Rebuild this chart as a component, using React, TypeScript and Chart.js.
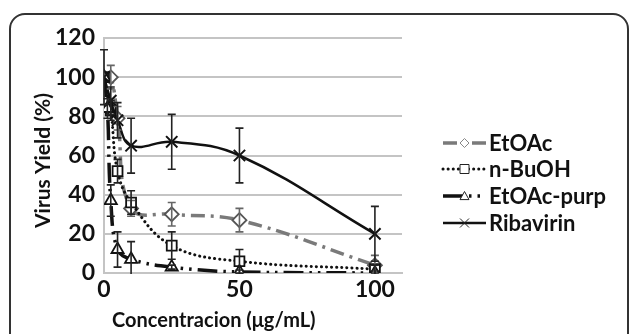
import React, { useEffect, useRef } from "react";
import { Chart, registerables } from "chart.js";

Chart.register(...registerables);

// ---- data ----
const etoacX = [0, 2.5, 5, 10, 25, 50, 100];
const etoacY = [100, 100, 79, 33, 30, 27, 4];
const etoacErr = [0, 6, 6, 4, 6, 6, 5];

const buohX = [0, 2.5, 5, 10, 25, 50, 100];
const buohY = [100, 83, 52, 36, 14, 6, 2];
const buohErr = [0, 5, 6, 6, 7, 6, 2];

const purpX = [0, 1.25, 2.5, 5, 10, 25, 50, 100];
const purpY = [100, 84, 37, 12, 7, 3, 0.5, 0];
const purpErr = [0, 5, 8, 9, 9, 1, 1, 1];

const ribaX = [0, 2.5, 5, 10, 25, 50, 100];
const ribaY = [100, 88, 78, 65, 67, 60, 20];
const ribaErr = [14, 7, 9, 14, 14, 14, 14];

const seriesNames = ["EtOAc", "n-BuOH", "EtOAc-purp", "Ribavirin"];
const yTicks = [0, 20, 40, 60, 80, 100, 120];
const xTicks = [0, 50, 100];
const xTitle = "Concentracion (\u03bcg/mL)";
const yTitle = "Virus Yield (%)";

const FONT = "Lato, 'Open Sans', sans-serif";

function pts(xs: number[], ys: number[]) {
  return xs.map((x, i) => ({ x, y: ys[i] }));
}

const styles = [
  { color: "#7a7a7a", point: "#555555", dash: [14, 6, 3, 6], width: 3.5, style: "rectRot", radius: 7, cap: "butt" },
  { color: "#111111", point: "#111111", dash: [0.1, 5], width: 3, style: "rect", radius: 7, cap: "round" },
  { color: "#111111", point: "#111111", dash: [20, 6, 2.5, 6, 2.5, 6], width: 3.5, style: "triangle", radius: 7, cap: "butt" },
  { color: "#111111", point: "#111111", dash: [], width: 2.5, style: "crossRot", radius: 8, cap: "butt" },
];

const errorBarPlugin = {
  id: "errorBars",
  afterDatasetsDraw(chart: any) {
    const ctx = chart.ctx;
    const xs = chart.scales.x;
    const ys = chart.scales.y;
    ctx.save();
    ctx.beginPath();
    ctx.rect(chart.chartArea.left - 10, 0, chart.width, chart.chartArea.bottom + 1);
    ctx.clip();
    chart.data.datasets.forEach((ds: any) => {
      const errs: number[] = ds.errors || [];
      ctx.strokeStyle = ds.errColor;
      ctx.lineWidth = 1.6;
      ctx.setLineDash([]);
      ds.data.forEach((p: any, i: number) => {
        const e = errs[i];
        if (!e) return;
        const px = xs.getPixelForValue(p.x);
        const top = ys.getPixelForValue(p.y + e);
        const bot = ys.getPixelForValue(Math.max(p.y - e, -2));
        ctx.beginPath();
        ctx.moveTo(px, top);
        ctx.lineTo(px, bot);
        ctx.moveTo(px - 4, top);
        ctx.lineTo(px + 4, top);
        ctx.moveTo(px - 4, bot);
        ctx.lineTo(px + 4, bot);
        ctx.stroke();
      });
    });
    ctx.restore();
  },
};

function drawMarker(ctx: any, style: string, x: number, y: number, r: number) {
  ctx.beginPath();
  if (style === "rectRot") {
    ctx.moveTo(x, y - r);
    ctx.lineTo(x + r, y);
    ctx.lineTo(x, y + r);
    ctx.lineTo(x - r, y);
    ctx.closePath();
    ctx.fill();
    ctx.stroke();
  } else if (style === "rect") {
    ctx.rect(x - r, y - r, 2 * r, 2 * r);
    ctx.fill();
    ctx.stroke();
  } else if (style === "triangle") {
    ctx.moveTo(x, y - r);
    ctx.lineTo(x + r, y + r * 0.8);
    ctx.lineTo(x - r, y + r * 0.8);
    ctx.closePath();
    ctx.fill();
    ctx.stroke();
  } else {
    ctx.moveTo(x - r, y - r);
    ctx.lineTo(x + r, y + r);
    ctx.moveTo(x + r, y - r);
    ctx.lineTo(x - r, y + r);
    ctx.stroke();
  }
}

const textPlugin = {
  id: "customText",
  afterDraw(chart: any) {
    const ctx = chart.ctx;
    const area = chart.chartArea;
    ctx.save();
    ctx.fillStyle = "#111";
    // x title
    ctx.font = `bold 20px ${FONT}`;
    ctx.textAlign = "left";
    ctx.textBaseline = "middle";
    ctx.fillText(xTitle, area.left + 8, 321);
    // y title
    ctx.save();
    ctx.translate(43, (area.top + area.bottom) / 2 + 5);
    ctx.rotate(-Math.PI / 2);
    ctx.font = `bold 21px ${FONT}`;
    ctx.textAlign = "center";
    ctx.fillText(yTitle, 0, 0);
    ctx.restore();

    // legend
    const lx0 = 443;
    const lx1 = 486;
    const rowY = [143, 169, 196, 223];
    chart.data.datasets.forEach((ds: any, i: number) => {
      const st = styles[i];
      const y = rowY[i];
      ctx.save();
      ctx.strokeStyle = st.color;
      ctx.lineWidth = st.width;
      ctx.lineCap = st.cap;
      ctx.setLineDash(st.dash);
      ctx.beginPath();
      ctx.moveTo(lx0, y);
      ctx.lineTo(lx1, y);
      ctx.stroke();
      ctx.restore();
      const mx = (lx0 + lx1) / 2;
      ctx.save();
      ctx.fillStyle = "#fff";
      ctx.strokeStyle = i === 0 ? "#888" : "#222";
      ctx.lineWidth = 1;
      ctx.setLineDash([]);
      drawMarker(ctx, st.style, mx, y, 4.5);
      ctx.restore();
      ctx.fillStyle = "#111";
      ctx.font = `bold 22px ${FONT}`;
      ctx.textAlign = "left";
      ctx.textBaseline = "middle";
      ctx.fillText(ds.label, lx1 + 3, y + 1);
    });
    ctx.restore();
  },
};

export default function App() {
  const ref = useRef<HTMLCanvasElement>(null);
  useEffect(() => {
    const xsArr = [etoacX, buohX, purpX, ribaX];
    const ysArr = [etoacY, buohY, purpY, ribaY];
    const errArr = [etoacErr, buohErr, purpErr, ribaErr];
    const datasets = seriesNames.map((name, i) => {
      const st = styles[i];
      return {
        label: name,
        data: pts(xsArr[i], ysArr[i]),
        errors: errArr[i],
        errColor: i === 0 ? "#666" : "#222",
        borderColor: st.color,
        borderWidth: st.width,
        borderDash: st.dash,
        borderCapStyle: st.cap,
        tension: 0.4,
        pointStyle: st.style,
        pointRadius: st.radius,
        pointBorderColor: st.point,
        pointBackgroundColor: st.style === "crossRot" ? st.point : "#fff",
        pointBorderWidth: st.style === "crossRot" ? 2 : 1.8,
        fill: false,
        order: 4 - i,
      };
    });
    const chart = new Chart(ref.current!, {
      type: "line",
      data: { datasets } as any,
      options: {
        animation: false,
        responsive: false,
        layout: { padding: { left: 0, top: 38, right: 227, bottom: 0 } },
        plugins: { legend: { display: false }, tooltip: { enabled: false } },
        scales: {
          x: {
            type: "linear",
            min: 0,
            max: 110,
            afterBuildTicks: (s: any) => {
              s.ticks = xTicks.map((v) => ({ value: v }));
            },
            afterFit: (s: any) => {
              s.height = 61;
            },
            grid: { display: false, drawTicks: false },
            border: { display: true, color: "#c4c4c4", width: 2 },
            ticks: {
              padding: 3,
              color: "#111",
              font: { family: FONT, size: 23, weight: "bold" },
              maxRotation: 0,
            },
          },
          y: {
            min: 0,
            max: 120,
            afterBuildTicks: (s: any) => {
              s.ticks = yTicks.map((v) => ({ value: v }));
            },
            afterFit: (s: any) => {
              s.width = 104;
            },
            grid: { color: "#c4c4c4", lineWidth: 2, drawTicks: false },
            border: { display: true, color: "#c4c4c4", width: 2 },
            ticks: {
              padding: 9,
              color: "#111",
              font: { family: FONT, size: 23, weight: "bold" },
            },
          },
        },
      } as any,
      plugins: [errorBarPlugin, textPlugin],
    });
    return () => chart.destroy();
  }, []);
  return (
    <div
      style={{
        position: "fixed",
        left: 0,
        top: 0,
        width: 629,
        height: 334,
        overflow: "hidden",
        background: "#fff",
      }}
    >
      <canvas ref={ref} width={629} height={334} style={{ position: "absolute", left: 0, top: 0 }} />
      <div
        style={{
          position: "absolute",
          left: 9,
          top: 13,
          width: 616,
          height: 360,
          border: "2px solid #333",
          borderRadius: 16,
          pointerEvents: "none",
        }}
      />
    </div>
  );
}
